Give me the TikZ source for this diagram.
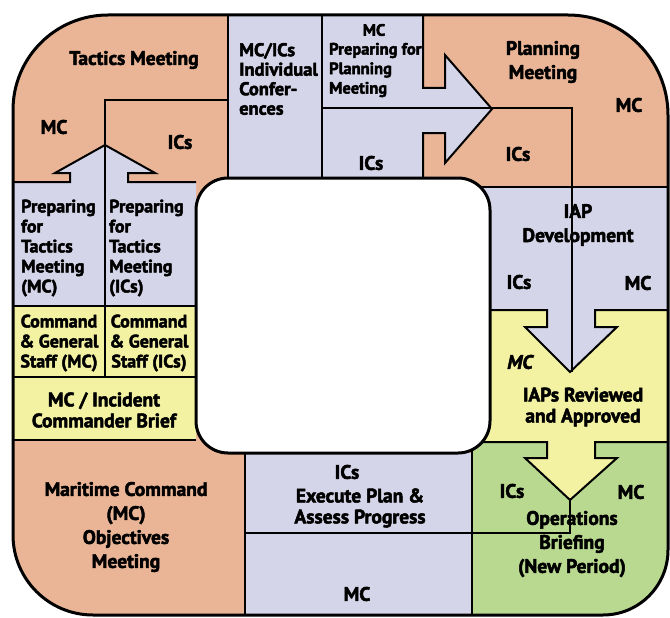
\documentclass[tikz,border=0pt]{standalone}
\usepackage{fontspec}
\setmainfont{PT Sans}[BoldFeatures={FakeBold=2.5},BoldItalicFeatures={FakeBold=2.5}]
\definecolor{org}{HTML}{E9B596}
\definecolor{blu}{HTML}{D5D5E9}
\definecolor{yel}{HTML}{F3F1A2}
\definecolor{grn}{HTML}{B9D991}
\newcommand{\outerpath}{(13,110) .. controls (13,57.5) and (55.5,15) .. (108,15)
  -- (568,15) .. controls (623.2,15) and (668,59.8) .. (668,115)
  -- (668,550) .. controls (668,585.9) and (638.9,615) .. (603,615)
  -- (93,615) .. controls (48.8,615) and (13,579.2) .. (13,535) -- cycle}
\begin{document}
\begin{tikzpicture}[x=1pt,y=-1pt,line join=miter,
  lbl/.style={font=\bfseries\fontsize{19.5}{21}\selectfont,align=center,inner sep=0pt},
  wide/.style={font=\bfseries\fontsize{19.5}{24}\selectfont},
  lblL/.style={lbl,align=left,anchor=west},
  col/.style={font=\bfseries\fontsize{18}{20}\selectfont},
  mid/.style={font=\bfseries\fontsize{18.5}{19.5}\selectfont},
  small/.style={font=\bfseries\fontsize{16.5}{19.5}\selectfont},
  sep/.style={line width=2pt},
  rim/.style={line width=3pt}]
\useasboundingbox (0,0) rectangle (670,618);
\begin{scope}
  \clip \outerpath;
  \fill[org] (0,0) rectangle (670,618);
  \fill[grn] (472,442) rectangle (670,618);
  \fill[blu] (245,453) rectangle (472,618);
  \fill[yel] (480,310) -- (670,310) -- (670,442) -- (595,442) -- (595,458) -- (617,458)
     -- (570,500) -- (525,458) -- (547,458) -- (547,442) -- (480,442) -- cycle;
  \fill[blu] (480,187) -- (670,187) -- (670,310) -- (595,310) -- (595,327) -- (617,327)
     -- (570,372) -- (525,327) -- (547,327) -- (547,310) -- (480,310) -- cycle;
  \fill[blu] (228,0) -- (423,0) -- (423,88) -- (445,88) -- (445,55) -- (492,109)
     -- (445,163) -- (445,133) -- (423,133) -- (423,178) -- (228,178) -- cycle;
  \fill[blu] (0,182) -- (70,182) -- (70,173) -- (55,173) -- (105,145) -- (155,173)
     -- (128,173) -- (128,182) -- (196,182) -- (196,306) -- (0,306) -- cycle;
  \fill[yel] (0,306) rectangle (196,440);
  % separators
  \draw[sep] (228,100) -- (105,100) -- (105,377);
  \draw[sep] (228,15) -- (228,178);
  \draw[sep] (13,182) -- (70,182) -- (70,173) -- (55,173) -- (105,145) -- (155,173)
     -- (128,173) -- (128,182) -- (196,182);
  \draw[sep] (13,306) -- (196,306);
  \draw[sep] (13,377) -- (196,377);
  \draw[sep] (13,440) -- (196,440);
  \draw[sep] (322,15) -- (322,178);
  \draw[sep] (322,108) -- (572,108) -- (572,372);
  \draw[sep] (423,15) -- (423,88) -- (445,88) -- (445,55) -- (492,109)
     -- (445,163) -- (445,133) -- (423,133) -- (423,178);
  \draw[sep] (480,187) -- (668,187);
  \draw[sep] (480,310) -- (547,310) -- (547,327) -- (525,327) -- (570,372)
     -- (617,327) -- (595,327) -- (595,310) -- (668,310);
  \draw[sep] (472,442) -- (547,442) -- (547,458) -- (525,458) -- (570,500)
     -- (617,458) -- (595,458) -- (595,442) -- (668,442);
  \draw[sep] (570,500) -- (570,533) -- (245,533);
  \draw[sep] (245,453) -- (245,615);
  \draw[sep] (472,442) -- (472,615);
\end{scope}
\draw[rim,fill=white,rounded corners=32pt] (196,178) rectangle (490,453);
\draw[rim] \outerpath;
% texts
\node[lbl] (tm) at (134,60) {Tactics Meeting};
\node[lbl] (tmmc) at (54,127) {MC};
\node[lbl] (tmic) at (180,142) {ICs};
\node[lblL,mid] (conf) at (239,79) {MC/ICs\\Individual\\Confer-\\ences};
\node[lbl,small] (ppmc) at (374,30) {MC};
\node[lblL,small] (pp) at (329,70) {Preparing for\\Planning\\Meeting};
\node[lbl] (ppic) at (371,163) {ICs};
\node[lbl,wide] (pm) at (543,62) {Planning\\Meeting};
\node[lbl] (pmmc) at (629,105) {MC};
\node[lbl] (pmic) at (518,154) {ICs};
\node[lblL,col] (ptmc) at (21,248) {Preparing\\for\\Tactics\\Meeting\\(MC)};
\node[lblL,col] (ptic) at (109,248) {Preparing\\for\\Tactics\\Meeting\\(ICs)};
\node[lbl,col] (cgmc) at (59,343) {Command\\\&~General\\Staff (MC)};
\node[lbl,col] (cgic) at (149,343) {Command\\\&~General\\Staff (ICs)};
\node[lbl] (icb) at (104,410) {MC / Incident\\Commander Brief};
\node[lbl,wide] (iap) at (578,225) {IAP\\Development};
\node[lbl] (iapic) at (519,282) {ICs};
\node[lbl] (iapmc) at (638,283) {MC};
\node[lbl,font=\bfseries\itshape\fontsize{19.5}{21}\selectfont] (rvmc) at (520,362) {MC};
\node[lbl] (rv) at (583,407) {IAPs Reviewed\\and Approved};
\node[lbl] (obic) at (512,491) {ICs};
\node[lbl] (obmc) at (631,492) {MC};
\node[lbl,wide] (ob) at (572,544) {Operations\\Briefing\\(New Period)};
\node[lbl] (exic) at (347,472) {ICs};
\node[lbl] (ex) at (360,508) {Execute Plan \&\\Assess Progress};
\node[lbl] (exmc) at (357,594) {MC};
\node[lbl,wide] (mco) at (126,527) {Maritime Command\\(MC)\\Objectives\\Meeting};
\end{tikzpicture}
\end{document}
